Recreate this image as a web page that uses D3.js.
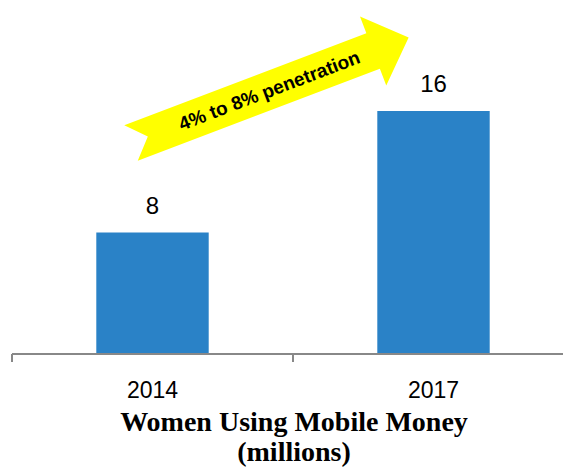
<!DOCTYPE html>
<html>
<head>
<meta charset="utf-8">
<script src="https://cdn.jsdelivr.net/npm/d3@7"></script>
<style>
  html, body { margin: 0; padding: 0; background: #ffffff; }
  svg { display: block; }
</style>
</head>
<body>
<svg id="chart" width="563" height="468"></svg>
<script>
// ---- data ----
const categories = ["2014", "2017"];
const values = [8, 16];
const valueLabels = ["8", "16"];
const titleLines = ["Women Using Mobile Money", "(millions)"];
const arrowText = "4% to 8% penetration";

// ---- layout ----
const W = 563, H = 468;
const axisLeft = 12, axisRight = 574, axisY = 354;

const svg = d3.select("#chart");

// category scale for axis boundaries (no padding)
const xCat = d3.scaleBand().domain(categories).range([axisLeft, axisRight]).padding(0);
// bar scale
const x = d3.scaleBand().domain(categories).range([axisLeft, axisRight])
  .paddingInner(0.6).paddingOuter(0.3);
const y = d3.scaleLinear().domain([0, 16]).range([axisY, 111]);

// bars
svg.selectAll("rect.bar").data(categories).join("rect")
  .attr("class", "bar")
  .attr("x", d => x(d))
  .attr("width", x.bandwidth())
  .attr("y", (d, i) => y(values[i]))
  .attr("height", (d, i) => axisY - y(values[i]))
  .attr("fill", "#2a82c7");

// value labels
svg.selectAll("text.vlabel").data(categories).join("text")
  .attr("class", "vlabel")
  .attr("x", d => x(d) + x.bandwidth() / 2)
  .attr("y", (d, i) => y(values[i]) - 19)
  .attr("text-anchor", "middle")
  .attr("font-family", "Liberation Sans, Arial, sans-serif")
  .attr("font-size", 24)
  .attr("fill", "#000")
  .text((d, i) => valueLabels[i]);

// axis line and ticks
const axisG = svg.append("g").attr("stroke", "#888888").attr("stroke-width", 2).attr("fill", "none");
axisG.append("line").attr("x1", axisLeft).attr("x2", axisRight).attr("y1", axisY).attr("y2", axisY);
const tickXs = categories.map(d => xCat(d)).concat([axisRight]);
axisG.selectAll("line.tick").data(tickXs).join("line")
  .attr("class", "tick")
  .attr("x1", d => d).attr("x2", d => d)
  .attr("y1", axisY).attr("y2", axisY + 8);

// category labels
svg.selectAll("text.clabel").data(categories).join("text")
  .attr("class", "clabel")
  .attr("x", d => xCat(d) + xCat.bandwidth() / 2)
  .attr("y", 398)
  .attr("text-anchor", "middle")
  .attr("font-family", "Liberation Sans, Arial, sans-serif")
  .attr("font-size", 23)
  .attr("fill", "#000")
  .text(d => d);

// title
svg.selectAll("text.title").data(titleLines).join("text")
  .attr("class", "title")
  .attr("x", 294)
  .attr("y", (d, i) => 431 + i * 30)
  .attr("text-anchor", "middle")
  .attr("font-family", "Liberation Serif, Times New Roman, serif")
  .attr("font-weight", "bold")
  .attr("font-size", 28)
  .attr("fill", "#000")
  .text(d => d);

// annotation arrow
const arrowG = svg.append("g").attr("transform", "translate(131,143) rotate(-20.8)");
const shaftHalf = 19, headHalf = 37, headStart = 259, tip = 297, notch = 18;
const arrowPts = [
  [0, -shaftHalf], [headStart, -shaftHalf], [headStart, -headHalf], [tip, 0],
  [headStart, headHalf], [headStart, shaftHalf], [0, shaftHalf], [notch, 0]
];
arrowG.append("path")
  .attr("d", d3.line()(arrowPts) + "Z")
  .attr("fill", "#ffff00");
arrowG.append("text")
  .attr("x", 148)
  .attr("y", 6.5)
  .attr("text-anchor", "middle")
  .attr("font-family", "Liberation Sans, Arial, sans-serif")
  .attr("font-weight", "bold")
  .attr("font-size", 19)
  .attr("fill", "#000")
  .text(arrowText);
</script>
</body>
</html>
